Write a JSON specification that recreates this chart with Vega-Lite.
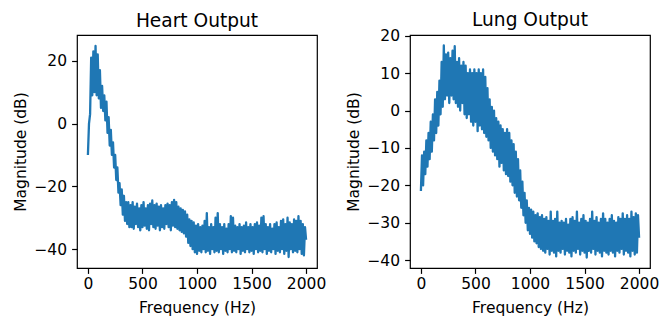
{
"$schema": "https://vega.github.io/schema/vega-lite/v6.json",
"background": "white",
"padding": {"left": 13, "top": 10, "right": 2, "bottom": 5},
"bounds": "flush",
"spacing": 93,
"datasets": {
"heart": [
{"f":0,"m":-10},{"f":10,"m":0},{"f":20,"m":3},{"f":30,"m":21},{"f":40,"m":9},{"f":50,"m":23},{"f":60,"m":10},{"f":70,"m":24.7},{"f":80,"m":9},{"f":90,"m":22},
{"f":100,"m":8},{"f":110,"m":17},{"f":120,"m":5},{"f":130,"m":12},{"f":140,"m":4},{"f":150,"m":9},{"f":160,"m":1},{"f":170,"m":7},{"f":180,"m":-3},{"f":190,"m":2},
{"f":200,"m":-7},{"f":210,"m":-2},{"f":220,"m":-10},{"f":230,"m":-6},{"f":240,"m":-14},{"f":250,"m":-10},{"f":260,"m":-18},{"f":270,"m":-14},{"f":280,"m":-22},{"f":290,"m":-19},
{"f":300,"m":-26},{"f":310,"m":-21},{"f":320,"m":-29},{"f":330,"m":-23},{"f":340,"m":-31},{"f":350,"m":-25},{"f":360,"m":-32},{"f":370,"m":-25},{"f":380,"m":-33},{"f":390,"m":-26},
{"f":400,"m":-33},{"f":410,"m":-25},{"f":420,"m":-33.5},{"f":430,"m":-26.5},{"f":440,"m":-32},{"f":450,"m":-25.5},{"f":460,"m":-33},{"f":470,"m":-27},{"f":480,"m":-34},{"f":490,"m":-26},
{"f":500,"m":-33},{"f":510,"m":-25},{"f":520,"m":-32.5},{"f":530,"m":-27},{"f":540,"m":-33.5},{"f":550,"m":-26},{"f":560,"m":-34},{"f":570,"m":-25.5},{"f":580,"m":-32},{"f":590,"m":-24.5},
{"f":600,"m":-33},{"f":610,"m":-26},{"f":620,"m":-33.5},{"f":630,"m":-25.5},{"f":640,"m":-32.5},{"f":650,"m":-26.5},{"f":660,"m":-34},{"f":670,"m":-26},{"f":680,"m":-33},{"f":690,"m":-27},
{"f":700,"m":-33.5},{"f":710,"m":-26},{"f":720,"m":-32},{"f":730,"m":-25.5},{"f":740,"m":-33},{"f":750,"m":-26},{"f":760,"m":-34},{"f":770,"m":-25},{"f":780,"m":-32.5},{"f":790,"m":-24.3},
{"f":800,"m":-33},{"f":810,"m":-25},{"f":820,"m":-33.5},{"f":830,"m":-26.5},{"f":840,"m":-34},{"f":850,"m":-27},{"f":860,"m":-34.5},{"f":870,"m":-27.5},{"f":880,"m":-35},{"f":890,"m":-28},
{"f":900,"m":-36},{"f":910,"m":-29},{"f":920,"m":-38},{"f":930,"m":-30.5},{"f":940,"m":-39},{"f":950,"m":-31},{"f":960,"m":-40},{"f":970,"m":-31.5},{"f":980,"m":-41},{"f":990,"m":-32.5},
{"f":1000,"m":-41.5},{"f":1010,"m":-32},{"f":1020,"m":-40.5},{"f":1030,"m":-33},{"f":1040,"m":-41},{"f":1050,"m":-32.5},{"f":1060,"m":-40},{"f":1070,"m":-31},{"f":1080,"m":-41},{"f":1090,"m":-28.5},
{"f":1100,"m":-40.5},{"f":1110,"m":-33},{"f":1120,"m":-41.5},{"f":1130,"m":-32},{"f":1140,"m":-40},{"f":1150,"m":-33},{"f":1160,"m":-41},{"f":1170,"m":-30},{"f":1180,"m":-40.5},{"f":1190,"m":-28.5},
{"f":1200,"m":-41},{"f":1210,"m":-32},{"f":1220,"m":-40},{"f":1230,"m":-33},{"f":1240,"m":-41.5},{"f":1250,"m":-32},{"f":1260,"m":-40.5},{"f":1270,"m":-33.5},{"f":1280,"m":-41},{"f":1290,"m":-32},
{"f":1300,"m":-40},{"f":1310,"m":-29.5},{"f":1320,"m":-41},{"f":1330,"m":-30},{"f":1340,"m":-40.5},{"f":1350,"m":-32.5},{"f":1360,"m":-41},{"f":1370,"m":-33},{"f":1380,"m":-40},{"f":1390,"m":-32},
{"f":1400,"m":-41.5},{"f":1410,"m":-33},{"f":1420,"m":-40.5},{"f":1430,"m":-32.5},{"f":1440,"m":-41},{"f":1450,"m":-31.5},{"f":1460,"m":-40},{"f":1470,"m":-33},{"f":1480,"m":-41},{"f":1490,"m":-32},
{"f":1500,"m":-40.5},{"f":1510,"m":-33},{"f":1520,"m":-41.5},{"f":1530,"m":-32},{"f":1540,"m":-40},{"f":1550,"m":-31.5},{"f":1560,"m":-41},{"f":1570,"m":-32.5},{"f":1580,"m":-40.5},{"f":1590,"m":-30},
{"f":1600,"m":-41},{"f":1610,"m":-29.5},{"f":1620,"m":-40},{"f":1630,"m":-32},{"f":1640,"m":-41.5},{"f":1650,"m":-33},{"f":1660,"m":-40.5},{"f":1670,"m":-32},{"f":1680,"m":-41},{"f":1690,"m":-33.5},
{"f":1700,"m":-40},{"f":1710,"m":-32},{"f":1720,"m":-41.5},{"f":1730,"m":-31.5},{"f":1740,"m":-40.5},{"f":1750,"m":-33},{"f":1760,"m":-41},{"f":1770,"m":-31},{"f":1780,"m":-40},{"f":1790,"m":-30.5},
{"f":1800,"m":-41.5},{"f":1810,"m":-32},{"f":1820,"m":-40.5},{"f":1830,"m":-30},{"f":1840,"m":-42.5},{"f":1850,"m":-31.5},{"f":1860,"m":-40},{"f":1870,"m":-32},{"f":1880,"m":-41},{"f":1890,"m":-30.5},
{"f":1900,"m":-40.5},{"f":1910,"m":-31},{"f":1920,"m":-41},{"f":1930,"m":-29.5},{"f":1940,"m":-40},{"f":1950,"m":-31},{"f":1960,"m":-41.5},{"f":1970,"m":-32},{"f":1980,"m":-42},{"f":1990,"m":-33},
{"f":2000,"m":-37}
],
"lung": [
{"f":0,"m":-21.5},{"f":10,"m":-12},{"f":20,"m":-20},{"f":30,"m":-11},{"f":40,"m":-17},{"f":50,"m":-8},{"f":60,"m":-15},{"f":70,"m":-6},{"f":80,"m":-13},{"f":90,"m":-3},
{"f":100,"m":-11},{"f":110,"m":-1},{"f":120,"m":-8},{"f":130,"m":3},{"f":140,"m":-6},{"f":150,"m":5},{"f":160,"m":-4},{"f":170,"m":8},{"f":180,"m":-1},{"f":190,"m":13},
{"f":200,"m":1},{"f":210,"m":17.4},{"f":220,"m":3},{"f":230,"m":15},{"f":240,"m":4},{"f":250,"m":15.5},{"f":260,"m":2},{"f":270,"m":14},{"f":280,"m":4},{"f":290,"m":16},
{"f":300,"m":3},{"f":310,"m":17.2},{"f":320,"m":2},{"f":330,"m":13},{"f":340,"m":1},{"f":350,"m":14},{"f":360,"m":0},{"f":370,"m":12},{"f":380,"m":2},{"f":390,"m":13},
{"f":400,"m":-1},{"f":410,"m":12},{"f":420,"m":-2},{"f":430,"m":10},{"f":440,"m":-1},{"f":450,"m":11},{"f":460,"m":-3},{"f":470,"m":10},{"f":480,"m":-4},{"f":490,"m":11},
{"f":500,"m":-3},{"f":510,"m":10},{"f":520,"m":-5.5},{"f":530,"m":11},{"f":540,"m":-4},{"f":550,"m":10},{"f":560,"m":-5},{"f":570,"m":11},{"f":580,"m":-6},{"f":590,"m":9},
{"f":600,"m":-7},{"f":610,"m":6},{"f":620,"m":-8},{"f":630,"m":3},{"f":640,"m":-10},{"f":650,"m":1},{"f":660,"m":-11},{"f":670,"m":0},{"f":680,"m":-12},{"f":690,"m":-2},
{"f":700,"m":-13},{"f":710,"m":-3},{"f":720,"m":-15},{"f":730,"m":-4},{"f":740,"m":-14},{"f":750,"m":-5},{"f":760,"m":-16},{"f":770,"m":-6},{"f":780,"m":-17},{"f":790,"m":-5},
{"f":800,"m":-17.5},{"f":810,"m":-6},{"f":820,"m":-19},{"f":830,"m":-8},{"f":840,"m":-20},{"f":850,"m":-9},{"f":860,"m":-22},{"f":870,"m":-11},{"f":880,"m":-23},{"f":890,"m":-13},
{"f":900,"m":-24},{"f":910,"m":-16},{"f":920,"m":-26},{"f":930,"m":-19},{"f":940,"m":-28},{"f":950,"m":-22},{"f":960,"m":-30},{"f":970,"m":-24},{"f":980,"m":-32},{"f":990,"m":-26},
{"f":1000,"m":-33},{"f":1010,"m":-26.5},{"f":1020,"m":-34},{"f":1030,"m":-27},{"f":1040,"m":-35},{"f":1050,"m":-28},{"f":1060,"m":-35.5},{"f":1070,"m":-27.5},{"f":1080,"m":-36.5},{"f":1090,"m":-28.5},
{"f":1100,"m":-37},{"f":1110,"m":-28},{"f":1120,"m":-37.5},{"f":1130,"m":-29},{"f":1140,"m":-38},{"f":1150,"m":-28.5},{"f":1160,"m":-37},{"f":1170,"m":-29.5},{"f":1180,"m":-38.5},{"f":1190,"m":-27},
{"f":1200,"m":-37.5},{"f":1210,"m":-29.5},{"f":1220,"m":-38},{"f":1230,"m":-29},{"f":1240,"m":-39},{"f":1250,"m":-27},{"f":1260,"m":-37.5},{"f":1270,"m":-30},{"f":1280,"m":-38},{"f":1290,"m":-29.5},
{"f":1300,"m":-37},{"f":1310,"m":-30},{"f":1320,"m":-38.5},{"f":1330,"m":-29},{"f":1340,"m":-37.5},{"f":1350,"m":-30.5},{"f":1360,"m":-38},{"f":1370,"m":-29},{"f":1380,"m":-39},{"f":1390,"m":-28.5},
{"f":1400,"m":-37.5},{"f":1410,"m":-29.5},{"f":1420,"m":-38},{"f":1430,"m":-27},{"f":1440,"m":-37},{"f":1450,"m":-30},{"f":1460,"m":-38.5},{"f":1470,"m":-29},{"f":1480,"m":-37.5},{"f":1490,"m":-28},
{"f":1500,"m":-38},{"f":1510,"m":-29.5},{"f":1520,"m":-39.3},{"f":1530,"m":-30},{"f":1540,"m":-37.5},{"f":1550,"m":-29},{"f":1560,"m":-38},{"f":1570,"m":-27},{"f":1580,"m":-37},{"f":1590,"m":-29.5},
{"f":1600,"m":-38.5},{"f":1610,"m":-28.5},{"f":1620,"m":-37.5},{"f":1630,"m":-30},{"f":1640,"m":-38},{"f":1650,"m":-29},{"f":1660,"m":-39},{"f":1670,"m":-27.5},{"f":1680,"m":-37.5},{"f":1690,"m":-29},
{"f":1700,"m":-38},{"f":1710,"m":-30},{"f":1720,"m":-38.5},{"f":1730,"m":-29},{"f":1740,"m":-37.5},{"f":1750,"m":-28},{"f":1760,"m":-38},{"f":1770,"m":-29.5},{"f":1780,"m":-39},{"f":1790,"m":-30},
{"f":1800,"m":-37.5},{"f":1810,"m":-28.5},{"f":1820,"m":-38},{"f":1830,"m":-29},{"f":1840,"m":-37},{"f":1850,"m":-27.5},{"f":1860,"m":-38.5},{"f":1870,"m":-29},{"f":1880,"m":-37.5},{"f":1890,"m":-28},
{"f":1900,"m":-38},{"f":1910,"m":-29},{"f":1920,"m":-39},{"f":1930,"m":-27},{"f":1940,"m":-37.5},{"f":1950,"m":-28.5},{"f":1960,"m":-38.5},{"f":1970,"m":-27.5},{"f":1980,"m":-38},{"f":1990,"m":-28},
{"f":2000,"m":-34}
]
},
"config": {
"view": {"stroke": "#000", "strokeWidth": 1.2},
"font": "DejaVu Sans",
"axis": {"domain": false, "grid": false, "tickColor": "#000", "tickSize": 5.4, "tickWidth": 1.2, "labelColor": "#000", "labelFont": "DejaVu Sans", "labelFontSize": 15.5, "labelPadding": 5, "labelOverlap": false, "labelFlush": false, "format": "d", "titleFont": "DejaVu Sans", "titleFontSize": 15.5, "titleFontWeight": "normal", "titleColor": "#000", "titlePadding": 5},
"axisX": {"labelPadding": 3, "titlePadding": 9},
"title": {"font": "DejaVu Sans", "fontSize": 18.6, "fontWeight": "normal", "color": "#000", "baseline": "alphabetic", "frame": "group"}
},
"hconcat": [
{
"title": {"text": "Heart Output", "offset": 4},
"width": 240, "height": 233,
"data": {"name": "heart"},
"mark": {"type": "line", "color": "#1f77b4", "strokeWidth": 2.3, "strokeJoin": "round", "clip": true},
"encoding": {
"x": {"field": "f", "type": "quantitative", "scale": {"domain": [-100, 2100], "nice": false, "zero": false}, "axis": {"values": [0, 500, 1000, 1500, 2000], "title": "Frequency (Hz)"}},
"y": {"field": "m", "type": "quantitative", "scale": {"domain": [-46, 28.2], "nice": false, "zero": false}, "axis": {"values": [-40, -20, 0, 20], "title": "Magnitude (dB)"}}
}
},
{
"title": {"text": "Lung Output", "offset": -1},
"width": 240, "height": 233,
"data": {"name": "lung"},
"mark": {"type": "line", "color": "#1f77b4", "strokeWidth": 2.3, "strokeJoin": "round", "clip": true},
"encoding": {
"x": {"field": "f", "type": "quantitative", "scale": {"domain": [-100, 2100], "nice": false, "zero": false}, "axis": {"values": [0, 500, 1000, 1500, 2000], "title": "Frequency (Hz)"}},
"y": {"field": "m", "type": "quantitative", "scale": {"domain": [-42.1, 20.2], "nice": false, "zero": false}, "axis": {"values": [-40, -30, -20, -10, 0, 10, 20], "title": "Magnitude (dB)"}}
}
}
]
}
